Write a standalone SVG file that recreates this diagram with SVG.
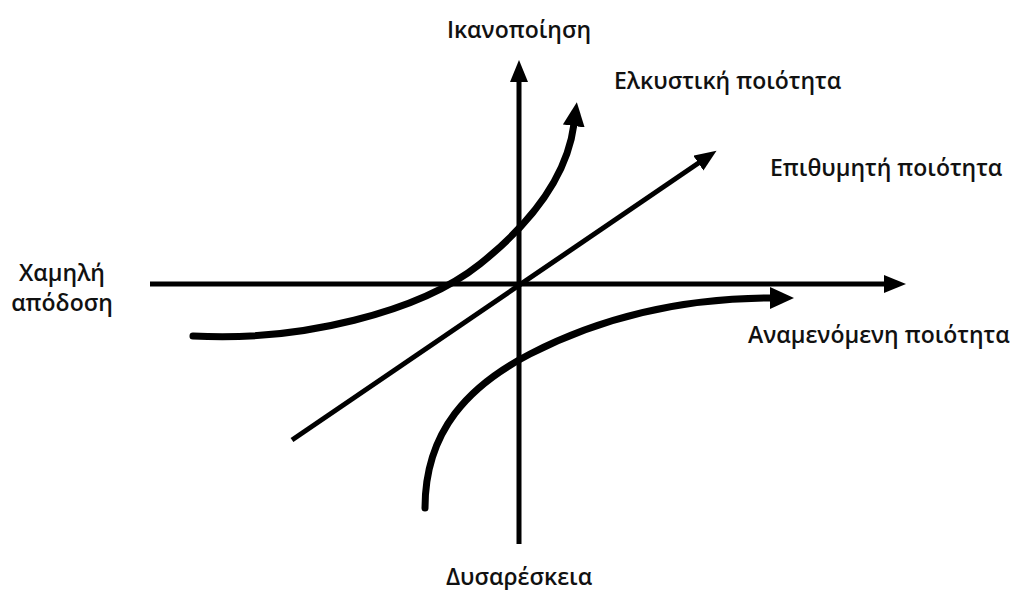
<svg xmlns="http://www.w3.org/2000/svg" width="1012" height="590" viewBox="0 0 1012 590">
<style>
.lbl{font-family:"Open Sans","Liberation Sans",sans-serif;font-weight:600;font-size:23px;fill:#111}
.ax{stroke:#000;stroke-width:5;fill:none}
.cv{stroke:#000;stroke-width:7;fill:none;stroke-linecap:round}
</style>
<defs>
<marker id="ah" markerUnits="userSpaceOnUse" markerWidth="24" markerHeight="20" refX="2" refY="9" orient="auto">
<path d="M0,0 L22,9 L0,18 Z" fill="#000"/>
</marker>
<marker id="ahb" markerUnits="userSpaceOnUse" markerWidth="26" markerHeight="24" refX="2" refY="11" orient="auto">
<path d="M0,0 L24,11 L0,22 Z" fill="#000"/>
</marker>
</defs>
<rect width="1012" height="590" fill="#fff"/>
<g id="connectors">
<line class="ax" x1="519" y1="544" x2="519" y2="80" marker-end="url(#ah)"/>
<line class="ax" x1="150" y1="284" x2="886" y2="284" marker-end="url(#ah)"/>
<line class="ax" x1="292" y1="440" x2="700" y2="162" marker-end="url(#ah)"/>
<path class="cv" d="M193,336 C300,342 420,312 480,264 C540,216 568,170 574,124" marker-end="url(#ahb)"/>
<path class="cv" d="M425,508 C425,430 470,385 530,354 C600,318 680,298 772,298" marker-end="url(#ahb)"/>
</g>
<g id="n-ikanopoiisi"><text class="lbl" x="519" y="38" text-anchor="middle">Ικανοποίηση</text></g>
<g id="n-elkystiki"><text class="lbl" x="614" y="89">Ελκυστική ποιότητα</text></g>
<g id="n-epithymiti"><text class="lbl" x="770" y="176">Επιθυμητή ποιότητα</text></g>
<g id="n-xamili"><text class="lbl" x="62" y="281" text-anchor="middle">Χαμηλή</text><text class="lbl" x="62" y="311" text-anchor="middle">απόδοση</text></g>
<g id="n-anamenomeni"><text class="lbl" x="748" y="343">Αναμενόμενη ποιότητα</text></g>
<g id="n-dysareskeia"><text class="lbl" x="519" y="585" text-anchor="middle">Δυσαρέσκεια</text></g>
</svg>
